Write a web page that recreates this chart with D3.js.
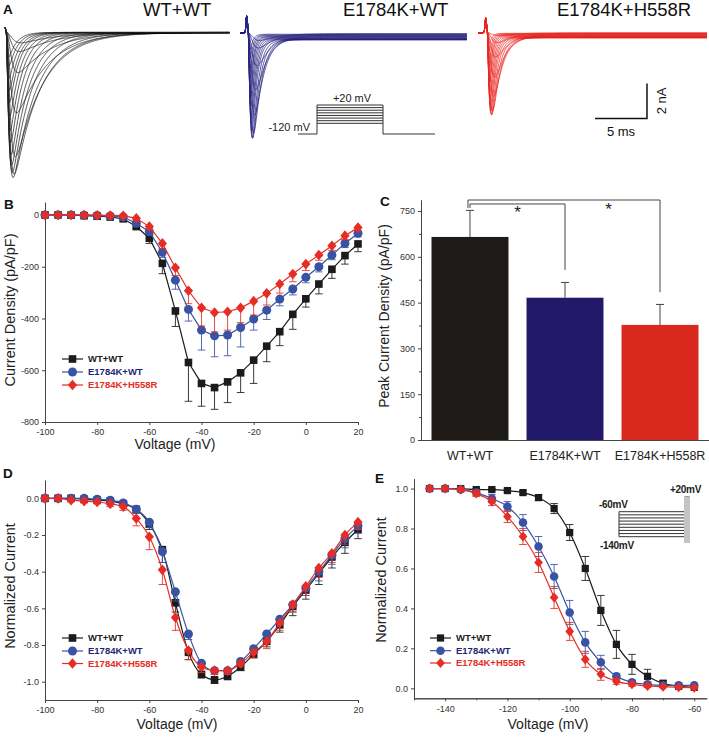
<!DOCTYPE html>
<html><head><meta charset="utf-8">
<script src="https://cdn.jsdelivr.net/npm/d3@7"></script>
<style>body{margin:0;background:#fff}svg{display:block}</style>
</head><body><svg id="c" width="709" height="737"></svg>
<script>
// ---------------- DATA ----------------
const groups = ["WT+WT", "E1784K+WT", "E1784K+H558R"];

// Panel A: trace families (test potentials -65..+20 mV)
const traceVolts   = [-65,-60,-55,-50,-45,-40,-35,-30,-25,-20,-15,-10,-5,0,5,10,15,20];
const wtTracePeak  = [0.6,1.1,2.3,4.6,7.1,8.1,8.3,8.0,7.6,7.0,6.3,5.6,4.8,4.0,3.3,2.6,1.9,1.4];
const e1TracePeak  = [0.41,0.84,1.85,3.24,4.69,5.72,6.0,5.96,5.59,5.17,4.73,4.18,3.67,3.1,2.57,1.99,1.41,0.91];
const e2TracePeak  = [0.16,0.56,1.37,2.54,3.65,4.48,4.7,4.66,4.48,4.15,3.78,3.33,2.84,2.37,1.93,1.48,1.0,0.61];
const traceTauM    = [0.45,0.4,0.35,0.3,0.26,0.22,0.19,0.17,0.15,0.14,0.13,0.12,0.11,0.1,0.1,0.09,0.09,0.08];
const wtTauH       = [3.5,3.3,3.1,2.9,2.7,2.5,2.2,1.9,1.7,1.5,1.3,1.15,1.05,0.95,0.9,0.85,0.8,0.75];
const mutTauH      = [1.6,1.4,1.2,1.0,0.85,0.7,0.6,0.52,0.46,0.42,0.38,0.35,0.32,0.3,0.28,0.27,0.26,0.25];
const lateFraction = [0.002, 0.022, 0.022];
const artifactAmp  = [0.3, 1.0, 0.85];

// Panel B: I-V current density (pA/pF)
const ivVolts = [-100,-95,-90,-85,-80,-75,-70,-65,-60,-55,-50,-45,-40,-35,-30,-25,-20,-15,-10,-5,0,5,10,15,20];
const wtIV    = [0,0,-1,-3,-5,-8,-15,-45,-90,-187,-371,-570,-651,-667,-645,-610,-561,-507,-451,-384,-324,-267,-210,-157,-112];
const wtIVErr = [1,1,1,2,3,4,6,8,20,40,60,150,88,84,80,76,90,60,54,58,32,38,35,33,30];
const e1IV    = [0,0,0,-1,-2,-4,-8,-32,-65,-144,-252,-365,-445,-467,-464,-435,-402,-368,-325,-286,-241,-200,-155,-110,-71];
const e1IVErr = [1,1,1,1,2,2,4,6,12,20,35,45,77,81,80,75,43,36,26,23,21,20,18,16,14];
const e2IV    = [0,0,0,0,-1,-2,-3,-13,-45,-110,-204,-293,-359,-377,-374,-359,-333,-303,-267,-228,-190,-155,-119,-80,-49];
const e2IVErr = [1,1,1,1,1,2,3,5,10,20,30,50,70,75,71,57,54,45,35,30,25,20,18,15,12];

// Panel C: peak current density
const peakDensity    = [665, 466, 377];
const peakDensityErr = [87, 50, 67];

// Panel D: normalized I-V
const wtNorm    = [0,0,0,-0.005,-0.01,-0.015,-0.03,-0.06,-0.14,-0.28,-0.57,-0.84,-0.96,-0.99,-0.97,-0.92,-0.85,-0.78,-0.69,-0.59,-0.5,-0.41,-0.32,-0.24,-0.17];
const wtNormErr = [0,0,0,0.005,0.005,0.01,0.01,0.02,0.03,0.07,0.05,0.04,0.02,0.02,0.02,0.02,0.02,0.03,0.04,0.05,0.05,0.06,0.06,0.06,0.05];
const e1Norm    = [0,0,0,0,-0.005,-0.01,-0.025,-0.06,-0.13,-0.29,-0.51,-0.74,-0.9,-0.94,-0.94,-0.89,-0.82,-0.74,-0.66,-0.58,-0.49,-0.4,-0.31,-0.22,-0.15];
const e1NormErr = [0,0,0,0,0.005,0.01,0.01,0.02,0.03,0.06,0.05,0.03,0.02,0.02,0.02,0.02,0.02,0.03,0.03,0.04,0.04,0.05,0.05,0.05,0.04];
const e2Norm    = [0,0,-0.01,-0.015,-0.02,-0.03,-0.045,-0.11,-0.21,-0.39,-0.65,-0.83,-0.92,-0.94,-0.94,-0.9,-0.84,-0.78,-0.68,-0.58,-0.48,-0.38,-0.3,-0.2,-0.13];
const e2NormErr = [0,0,0,0.01,0.01,0.015,0.02,0.04,0.07,0.08,0.07,0.05,0.03,0.02,0.02,0.02,0.03,0.04,0.04,0.04,0.05,0.05,0.05,0.05,0.04];

// Panel E: steady-state inactivation
const ssVolts  = [-145,-140,-135,-130,-125,-120,-115,-110,-105,-100,-95,-90,-85,-80,-75,-70,-65,-60];
const wtSS     = [1,1,1,0.995,0.995,0.99,0.98,0.955,0.9,0.78,0.6,0.39,0.22,0.12,0.06,0.025,0.01,0.005];
const wtSSErr  = [0,0,0,0.005,0.005,0.008,0.01,0.015,0.025,0.04,0.06,0.075,0.07,0.05,0.035,0.015,0.008,0.005];
const e1SS     = [1,1,0.995,0.98,0.95,0.91,0.83,0.71,0.56,0.38,0.23,0.13,0.06,0.03,0.02,0.015,0.015,0.015];
const e1SSErr  = [0,0.005,0.01,0.015,0.02,0.025,0.04,0.05,0.06,0.06,0.055,0.035,0.015,0.01,0.01,0.008,0.005,0.005];
const e2SS     = [1,1,0.995,0.975,0.935,0.86,0.76,0.63,0.455,0.285,0.145,0.07,0.035,0.02,0.012,0.008,0.005,0.003];
const e2SSErr  = [0,0.005,0.01,0.015,0.02,0.03,0.04,0.05,0.055,0.045,0.04,0.03,0.015,0.01,0.008,0.005,0.004,0.003];

// tick labels
const ivXTicks = [-100,-80,-60,-40,-20,0,20];
const ivYTicks = [0,-200,-400,-600,-800];
const cYTicks  = [0,150,300,450,600,750];
const cYMinor  = [75,225,375,525,675];
const dYTicks  = [0,-0.2,-0.4,-0.6,-0.8,-1.0];
const eXTicks  = [-140,-120,-100,-80,-60];
const eXMinor  = [-150,-130,-110,-90,-70];
const eYTicks  = [0,0.2,0.4,0.6,0.8,1.0];

// ---------------- STYLE ----------------
const FONT = "'Liberation Sans', Arial, Helvetica, sans-serif";
const COL = {
  black: "#1b1b1b", blue: "#3953a4", red: "#e52d25",
  blueText: "#1f1f78", redText: "#e52d25",
  barBlack: "#1e1a17", barBlue: "#23196b", barRed: "#d9281e",
  trBlack: "#222", trBlue: "#2a2480", trRed: "#e8261f", axis: "#444", tick: "#333"
};
const seriesColors = [COL.black, COL.blue, COL.red];
const legendColors = [COL.black, COL.blueText, COL.redText];
const markers = ["square", "circle", "diamond"];

const svg = d3.select("#c");
svg.append("rect").attr("width",709).attr("height",737).attr("fill","#fff");

function txt(g, x, y, s, o = {}) {
  const t = g.append("text").attr("x", x).attr("y", y).text(s)
    .attr("font-family", FONT).attr("font-size", o.size || 9)
    .attr("fill", o.fill || "#111").attr("text-anchor", o.anchor || "start");
  if (o.weight) t.attr("font-weight", o.weight);
  if (o.rotate) t.attr("transform", `rotate(${o.rotate},${x},${y})`);
  if (o.ls) t.attr("letter-spacing", o.ls);
  return t;
}
function styleAxis(sel) {
  sel.selectAll("path.domain").attr("stroke", COL.axis).attr("stroke-width", 1);
  sel.selectAll(".tick line").attr("stroke", COL.axis);
  sel.selectAll(".tick text").attr("font-size", 9).attr("fill", COL.tick).attr("font-family", FONT);
}
function marker(g, type, x, y, color, s = 1) {
  if (type === "square") g.append("rect").attr("x", x-3.8*s).attr("y", y-3.8*s).attr("width", 7.6*s).attr("height", 7.6*s).attr("fill", color);
  else if (type === "circle") g.append("circle").attr("cx", x).attr("cy", y).attr("r", 4.5*s).attr("fill", color);
  else g.append("path").attr("d", `M${x},${y-5.3*s}L${x+4.6*s},${y}L${x},${y+5.3*s}L${x-4.6*s},${y}Z`).attr("fill", color);
}
function drawSeries(g, x, y, xs, ys, errs, color, type, curve, errMode, s) {
  const pts = xs.map((v, i) => [v, ys[i], errs[i]]);
  pts.forEach(([xv, yv, e]) => {
    if (!e) return;
    const ends = errMode === "both" ? [yv + e, yv - e] : [yv - e];
    ends.forEach(ev => {
      g.append("line").attr("x1", x(xv)).attr("x2", x(xv)).attr("y1", y(yv)).attr("y2", y(ev))
        .attr("stroke", color).attr("stroke-width", 1).attr("opacity", 0.85);
      g.append("line").attr("x1", x(xv)-3.8).attr("x2", x(xv)+3.8).attr("y1", y(ev)).attr("y2", y(ev))
        .attr("stroke", color).attr("stroke-width", 1).attr("opacity", 0.85);
    });
  });
  g.append("path").attr("d", d3.line().x(d => x(d[0])).y(d => y(d[1])).curve(curve)(pts))
    .attr("fill", "none").attr("stroke", color).attr("stroke-width", 1.2);
  pts.forEach(([xv, yv]) => marker(g, type, x(xv), y(yv), color, s));
}
function legend(g, x0, ys, s) {
  groups.forEach((name, i) => {
    g.append("line").attr("x1", x0).attr("x2", x0 + 21).attr("y1", ys[i]).attr("y2", ys[i])
      .attr("stroke", seriesColors[i]).attr("stroke-width", 1.2);
    marker(g, markers[i], x0 + 10.5, ys[i], seriesColors[i], s);
    txt(g, x0 + 26, ys[i] + 3.4, name, {size: 9.5, weight: "bold", fill: legendColors[i]});
  });
}
function axes(g, x, y, xTicks, yTicks, fmt, xMinor) {
  const [y0] = y.range(); const [x0] = x.range();
  const ax = g.append("g").attr("transform", `translate(0,${y0})`)
    .call(d3.axisBottom(x).tickValues(xTicks).tickSize(3).tickSizeOuter(0).tickPadding(4).tickFormat(d => String(d)));
  styleAxis(ax);
  if (xMinor) styleAxis(g.append("g").attr("transform", `translate(0,${y0})`)
    .call(d3.axisBottom(x).tickValues(xMinor).tickSize(2).tickSizeOuter(0).tickFormat("")));
  const ay = g.append("g").attr("transform", `translate(${x0},0)`)
    .call(d3.axisLeft(y).tickValues(yTicks).tickSize(3).tickSizeOuter(0).tickPadding(3).tickFormat(fmt));
  styleAxis(ay);
}

// ---------------- PANEL A ----------------
const gA = svg.append("g");
txt(gA, 3, 14, "A", {size: 13.5, weight: "bold"});
const traceCfg = [
  {peaks: wtTracePeak, tauH: wtTauH, x0: 5,   x1: 229.6, t0: -0.1,  t1: 21.5,  base: 32.3, color: COL.trBlack, title: groups[0], tx: 143},
  {peaks: e1TracePeak, tauH: mutTauH, x0: 240, x1: 467,  t0: -0.77, t1: 21.06, base: 33.3, color: COL.trBlue,  title: groups[1], tx: 343},
  {peaks: e2TracePeak, tauH: mutTauH, x0: 478, x1: 707,  t0: -0.87, t1: 21.15, base: 32.7, color: COL.trRed,   title: groups[2], tx: 557}
];
const pxPerNA = 17.5;
traceCfg.forEach((cfg, gi) => {
  const xs = d3.scaleLinear().domain([cfg.t0, cfg.t1]).range([cfg.x0, cfg.x1]);
  const ys = d3.scaleLinear().domain([0, -10]).range([cfg.base, cfg.base + 10 * pxPerNA]);
  cfg.xs = xs; cfg.ys = ys;
  const times = d3.range(cfg.t0, cfg.t1 + 0.001, 0.02);
  const late = lateFraction[gi], art = artifactAmp[gi];
  cfg.peaks.forEach((A, k) => {
    const tm = traceTauM[k], th = cfg.tauH[k];
    const shape = t => t <= 0 ? 0 : Math.pow(1 - Math.exp(-t / tm), 3) * ((1 - late) * Math.exp(-t / th) + late);
    const norm = d3.max(times, shape);
    const val = t => -A * shape(t) / norm + art * Math.exp(-Math.pow((t + 0.12) / 0.1, 2));
    gA.append("path").attr("d", d3.line().x(t => xs(t)).y(t => ys(val(t)))(times))
      .attr("fill", "none").attr("stroke", cfg.color).attr("stroke-width", 0.8);
  });
  txt(gA, cfg.tx, 15.5, cfg.title, {size: 18.5, fill: "#111"});
});
// voltage protocol inset
(function () {
  const g = gA.append("g").attr("stroke", "#333").attr("stroke-width", 1).attr("fill", "none");
  const bx0 = 298, sx0 = 317, sx1 = 383, bx1 = 435, by = 134, top = 105, bot = 123.3;
  g.append("path").attr("d", `M${bx0},${by}H${sx0}V${top}H${sx1}V${by}H${bx1}`);
  for (let i = 1; i < 8; i++) { const yy = top + i * (bot - top) / 7; g.append("line").attr("x1", sx0).attr("x2", sx1).attr("y1", yy).attr("y2", yy); }
  txt(gA, 352, 102, "+20 mV", {size: 11, anchor: "middle", fill: "#222"});
  txt(gA, 310, 131, "-120 mV", {size: 11, anchor: "end", fill: "#222"});
})();
// scale bar (5 ms, 2 nA) using red trace scales
(function () {
  const c = traceCfg[2];
  const xe = c.xs(15.38), xb = c.xs(10.38), yb = c.ys(-4.9), yt = c.ys(-2.9);
  gA.append("path").attr("d", `M${xb},${yb}H${xe}V${yt}`).attr("fill", "none").attr("stroke", "#111").attr("stroke-width", 1.5);
  txt(gA, (xb + xe) / 2, 136, "5 ms", {size: 13, anchor: "middle", fill: "#111"});
  txt(gA, xe + 19, (yb + yt) / 2, "2 nA", {size: 13, anchor: "middle", fill: "#111", rotate: -90});
})();

// ---------------- PANEL B ----------------
const gB = svg.append("g");
txt(gB, 4, 209, "B", {size: 13.5, weight: "bold"});
const xB = d3.scaleLinear().domain([-100, 20]).range([45, 358]);
const yB = d3.scaleLinear().domain([-800, 50]).range([422, 202]);
axes(gB, xB, yB, ivXTicks, ivYTicks, d => String(d));
txt(gB, 175, 449, "Voltage (mV)", {size: 14, anchor: "middle", fill: "#222"});
txt(gB, 15, 310, "Current Density (pA/pF)", {size: 14.5, anchor: "middle", fill: "#222", rotate: -90});
[[wtIV, wtIVErr], [e1IV, e1IVErr], [e2IV, e2IVErr]].forEach(([v, e], i) =>
  drawSeries(gB, xB, yB, ivVolts, v, e, seriesColors[i], markers[i], d3.curveLinear, "down", 1));
legend(gB, 62, [359, 372, 385], 1);

// ---------------- PANEL C ----------------
const gC = svg.append("g");
txt(gC, 380, 206, "C", {size: 13.5, weight: "bold"});
const xC = d3.scaleBand().domain(groups).range([422, 708]).paddingInner(0.19).paddingOuter(0.1);
const yC = d3.scaleLinear().domain([0, 786]).range([440, 200]);
const barCols = [COL.barBlack, COL.barBlue, COL.barRed];
groups.forEach((gname, i) => {
  gC.append("rect").attr("x", xC(gname)).attr("y", yC(peakDensity[i])).attr("width", xC.bandwidth())
    .attr("height", yC(0) - yC(peakDensity[i])).attr("fill", barCols[i]);
  const cx = xC(gname) + xC.bandwidth() / 2, ye = yC(peakDensity[i] + peakDensityErr[i]);
  gC.append("line").attr("x1", cx).attr("x2", cx).attr("y1", yC(peakDensity[i])).attr("y2", ye).attr("stroke", "#444");
  gC.append("line").attr("x1", cx - 4).attr("x2", cx + 4).attr("y1", ye).attr("y2", ye).attr("stroke", "#444");
});
{
  const ax = gC.append("g").attr("transform", "translate(0,440)")
    .call(d3.axisBottom(xC).tickSize(0).tickSizeOuter(0).tickPadding(11));
  styleAxis(ax);
  ax.selectAll(".tick text").attr("font-size", 12.5).attr("fill", "#222");
  ax.select("path.domain").attr("d", "M421,0.5H709");
  styleAxis(gC.append("g").attr("transform", "translate(421,0)")
    .call(d3.axisLeft(yC).tickValues(cYTicks).tickSize(3).tickSizeOuter(0).tickPadding(3)));
  styleAxis(gC.append("g").attr("transform", "translate(421,0)")
    .call(d3.axisLeft(yC).tickValues(cYMinor).tickSize(2).tickSizeOuter(0).tickFormat("")));
}
txt(gC, 389, 316, "Peak Current Density (pA/pF)", {size: 14, anchor: "middle", fill: "#222", rotate: -90});
// significance brackets
{
  const cen = g => xC(g) + xC.bandwidth() / 2;
  const b = gC.append("g").attr("fill", "none").attr("stroke", "#444").attr("stroke-width", 1);
  b.append("path").attr("d", `M${cen(groups[0]) - 2},${yC(760)}V${yC(786)}H${cen(groups[2])}V${yC(484)}`);
  b.append("path").attr("d", `M${cen(groups[0])},${yC(760)}V${yC(773)}H${cen(groups[1])}V${yC(557)}`);
  txt(gC, (cen(groups[0]) + cen(groups[1])) / 2, 218, "*", {size: 17, anchor: "middle", fill: "#222"});
  txt(gC, (cen(groups[1]) + cen(groups[2])) / 2 - 4, 215, "*", {size: 17, anchor: "middle", fill: "#222"});
}

// ---------------- PANEL D ----------------
const gD = svg.append("g");
txt(gD, 3, 478, "D", {size: 13.5, weight: "bold"});
const xD = d3.scaleLinear().domain([-100, 20]).range([45, 358]);
const yD = d3.scaleLinear().domain([-1.1, 0.1]).range([700, 480]);
axes(gD, xD, yD, ivXTicks, dYTicks, d => d.toFixed(1));
txt(gD, 177, 729, "Voltage (mV)", {size: 14, anchor: "middle", fill: "#222"});
txt(gD, 15, 586, "Normalized Current", {size: 14.5, anchor: "middle", fill: "#222", rotate: -90});
[[wtNorm, wtNormErr], [e1Norm, e1NormErr], [e2Norm, e2NormErr]].forEach(([v, e], i) =>
  drawSeries(gD, xD, yD, ivVolts, v, e, seriesColors[i], markers[i], d3.curveMonotoneX, "down", 1));
legend(gD, 62, [638, 651, 663.5], 1);

// ---------------- PANEL E ----------------
const gE = svg.append("g");
txt(gE, 375, 483, "E", {size: 13.5, weight: "bold"});
const xE = d3.scaleLinear().domain([-150, -56]).range([414, 706.7]);
const yE = d3.scaleLinear().domain([-0.05, 1.05]).range([698.3, 478.6]);
axes(gE, xE, yE, eXTicks, eYTicks, d => d.toFixed(1), eXMinor);
txt(gE, 548, 729, "Voltage (mV)", {size: 14, anchor: "middle", fill: "#222"});
txt(gE, 386, 580, "Normalized Current", {size: 14.5, anchor: "middle", fill: "#222", rotate: -90});
[[wtSS, wtSSErr], [e1SS, e1SSErr], [e2SS, e2SSErr]].forEach(([v, e], i) =>
  drawSeries(gE, xE, yE, ssVolts, v, e, seriesColors[i], markers[i], d3.curveMonotoneX, "both", 0.95));
legend(gE, 430, [638, 650.7, 663], 0.95);
// protocol inset
{
  const g = gE.append("g").attr("stroke", "#333").attr("stroke-width", 1).attr("fill", "none");
  const lx0 = 619, lx1 = 685, ty = 511.7, by = 536.7;
  g.append("line").attr("x1", lx0).attr("x2", lx0).attr("y1", ty).attr("y2", by);
  for (let i = 0; i < 9; i++) { const yy = ty + i * (by - ty) / 8; g.append("line").attr("x1", lx0).attr("x2", lx1).attr("y1", yy).attr("y2", yy); }
  gE.append("rect").attr("x", 684).attr("y", 497).attr("width", 6).attr("height", 46).attr("fill", "#c4c4c4");
  g.append("rect").attr("x", 685).attr("y", 497).attr("width", 4).attr("height", 34);
  txt(gE, 670, 493, "+20mV", {size: 10, weight: "bold", fill: "#222", ls: -0.3});
  txt(gE, 599, 508, "-60mV", {size: 10, weight: "bold", fill: "#222", ls: -0.3});
  txt(gE, 600, 548.5, "-140mV", {size: 10, weight: "bold", fill: "#222", ls: -0.3});
}
</script></body></html>
